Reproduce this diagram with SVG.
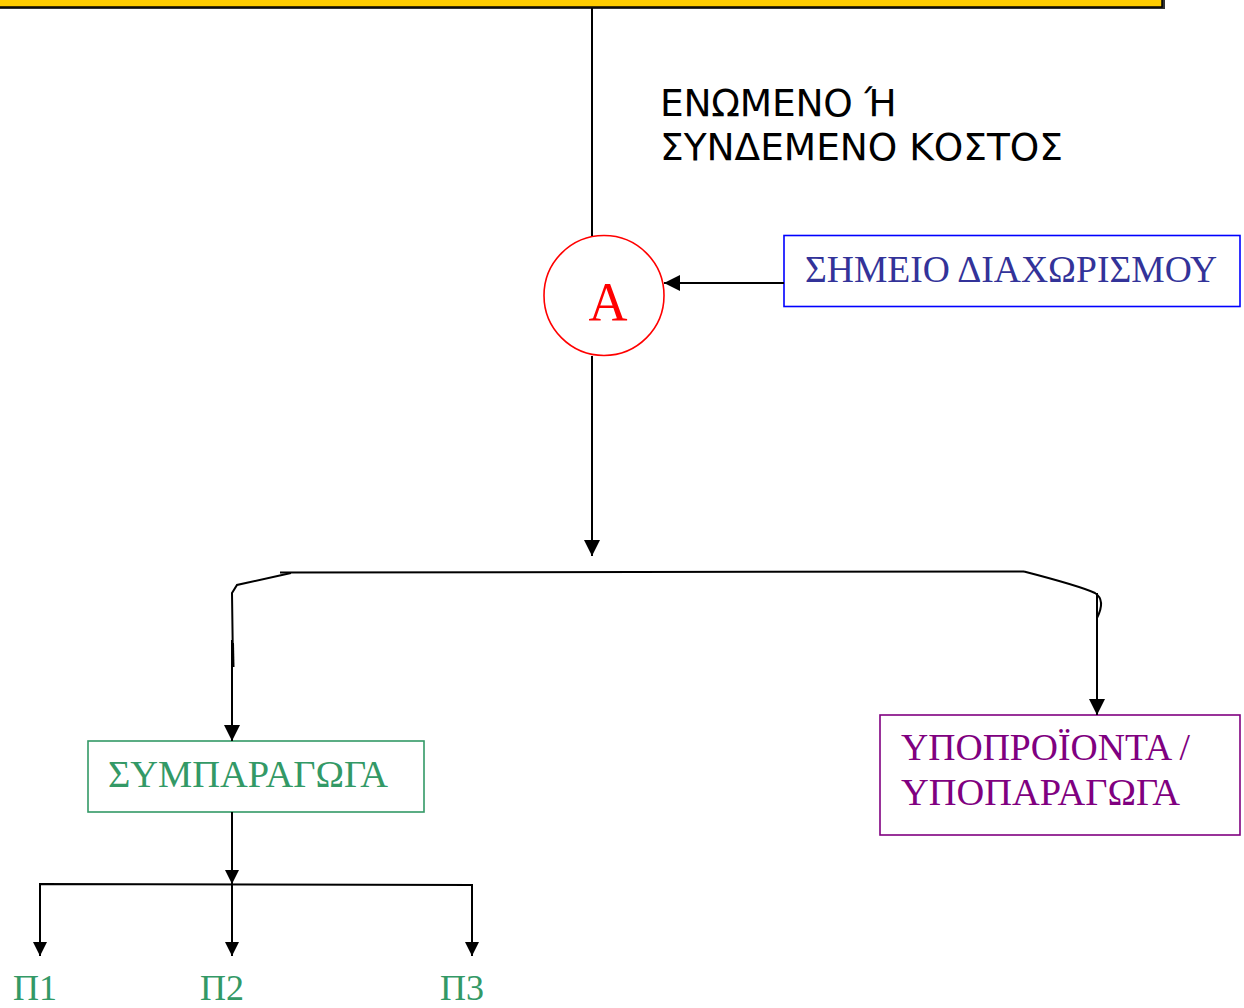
<svg xmlns="http://www.w3.org/2000/svg" width="1244" height="1008" viewBox="0 0 1244 1008">
  <style>
    .wire { fill: none; stroke: #000; stroke-width: 2; }
    .serif { font-family: "Liberation Serif", "Times New Roman", serif; }
    .sans { font-family: "DejaVu Sans", Verdana, sans-serif; }
  </style>
  <defs>
    <marker id="arrow" viewBox="0 0 16 16" refX="16" refY="8" markerWidth="16" markerHeight="16" markerUnits="userSpaceOnUse" orient="auto">
      <path d="M0,0 L16,8 L0,16 Z" fill="#000"/>
    </marker>
    <marker id="arrowSmall" viewBox="0 0 14 14" refX="14" refY="7" markerWidth="14" markerHeight="14" markerUnits="userSpaceOnUse" orient="auto">
      <path d="M0,0 L14,7 L0,14 Z" fill="#000"/>
    </marker>
  </defs>

  <rect width="1244" height="1008" fill="#fff"/>

  <!-- top cost pool box (mostly off the top edge) -->
  <g id="node-cost-pool">
    <rect x="-4" y="-40" width="1169" height="49" fill="#333"/>
    <rect x="-4" y="-40" width="1166" height="47" fill="#FFCC00" stroke="#000" stroke-width="1.5"/>
  </g>

  <!-- joint cost label -->
  <g id="node-joint-cost-label" class="sans" font-size="37.5" fill="#000">
    <text x="660" y="116" textLength="237" lengthAdjust="spacing">ΕΝΩΜΕΝΟ Ή</text>
    <text x="660" y="160" textLength="403" lengthAdjust="spacing">ΣΥΝΔΕΜΕΝΟ ΚΟΣΤΟΣ</text>
  </g>

  <!-- split-off point circle -->
  <g id="node-split-point">
    <circle cx="604" cy="295.5" r="60" fill="#fff" stroke="#FF0000" stroke-width="1.6"/>
    <text x="608" y="320" class="serif" font-size="54" fill="#FF0000" text-anchor="middle">Α</text>
  </g>

  <!-- split-off point label box -->
  <g id="node-split-label">
    <rect x="784" y="235.5" width="456" height="71" fill="#fff" stroke="#0000FF" stroke-width="1.6"/>
    <text x="805" y="282" class="serif" font-size="37.5" fill="#333399" textLength="412" lengthAdjust="spacingAndGlyphs">ΣΗΜΕΙΟ ΔΙΑΧΩΡΙΣΜΟΥ</text>
  </g>

  <!-- joint products box -->
  <g id="node-joint-products">
    <rect x="88" y="741" width="336" height="71" fill="#fff" stroke="#339966" stroke-width="1.6"/>
    <text x="108" y="787" class="serif" font-size="38" fill="#339966" textLength="280" lengthAdjust="spacingAndGlyphs">ΣΥΜΠΑΡΑΓΩΓΑ</text>
  </g>

  <!-- by-products box -->
  <g id="node-by-products">
    <rect x="880" y="715" width="360" height="120" fill="#fff" stroke="#800080" stroke-width="1.6"/>
    <text x="901" y="760" class="serif" font-size="38" fill="#800080" textLength="289" lengthAdjust="spacingAndGlyphs">ΥΠΟΠΡΟΪΟΝΤΑ /</text>
    <text x="901" y="805" class="serif" font-size="38" fill="#800080" textLength="279" lengthAdjust="spacingAndGlyphs">ΥΠΟΠΑΡΑΓΩΓΑ</text>
  </g>

  <!-- individual products -->
  <g id="node-p1"><text x="13" y="1000" class="serif" font-size="36" fill="#339966">Π1</text></g>
  <g id="node-p2"><text x="200" y="1000" class="serif" font-size="36" fill="#339966">Π2</text></g>
  <g id="node-p3"><text x="440" y="1000" class="serif" font-size="36" fill="#339966">Π3</text></g>

  <!-- connectors -->
  <g id="connectors">
    <line class="wire" x1="592" y1="8" x2="592" y2="236"/>
    <line class="wire" x1="784" y1="283" x2="664" y2="283" marker-end="url(#arrow)"/>
    <line class="wire" x1="592" y1="356" x2="592" y2="556" marker-end="url(#arrow)"/>

    <!-- branch bracket -->
    <path class="wire" d="M280,572.5 L1024,571.5"/>
    <path class="wire" d="M291,573 L237,585 L232,593 L233,667"/>
    <line class="wire" x1="233" y1="643" x2="233.5" y2="667"/>
    <line class="wire" x1="232" y1="640" x2="232" y2="741" marker-end="url(#arrow)"/>
    <path class="wire" d="M1024,571.5 Q1080,586 1095,593 Q1106,600 1097,618"/>
    <line class="wire" x1="1097" y1="593" x2="1097" y2="715" marker-end="url(#arrow)"/>

    <!-- joint products split into individual products -->
    <line class="wire" x1="232" y1="812" x2="232" y2="884" marker-end="url(#arrowSmall)"/>
    <path class="wire" d="M40,955 L40,884 L472,885 L472,955"/>
    <line class="wire" x1="40" y1="884" x2="40" y2="956" marker-end="url(#arrowSmall)"/>
    <line class="wire" x1="232" y1="884" x2="232" y2="956" marker-end="url(#arrowSmall)"/>
    <line class="wire" x1="472" y1="885" x2="472" y2="956" marker-end="url(#arrowSmall)"/>
  </g>
</svg>
